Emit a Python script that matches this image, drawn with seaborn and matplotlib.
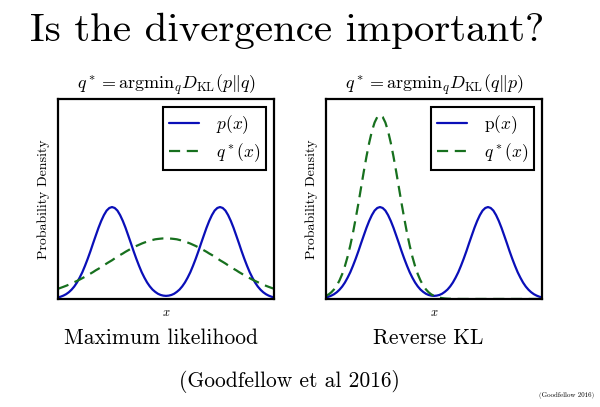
import numpy as np
import pandas as pd
import matplotlib
matplotlib.use("Agg")
import matplotlib.pyplot as plt
import seaborn as sns

# x positions (shared), -4.0 .. 4.0
x_vals = [-4.0, -3.9, -3.8, -3.7, -3.6, -3.5, -3.4, -3.3, -3.2, -3.1,
          -3.0, -2.9, -2.8, -2.7, -2.6, -2.5, -2.4, -2.3, -2.2, -2.1,
          -2.0, -1.9, -1.8, -1.7, -1.6, -1.5, -1.4, -1.3, -1.2, -1.1,
          -1.0, -0.9, -0.8, -0.7, -0.6, -0.5, -0.4, -0.3, -0.2, -0.1,
          0.0, 0.1, 0.2, 0.3, 0.4, 0.5, 0.6, 0.7, 0.8, 0.9,
          1.0, 1.1, 1.2, 1.3, 1.4, 1.5, 1.6, 1.7, 1.8, 1.9,
          2.0, 2.1, 2.2, 2.3, 2.4, 2.5, 2.6, 2.7, 2.8, 2.9,
          3.0, 3.1, 3.2, 3.3, 3.4, 3.5, 3.6, 3.7, 3.8, 3.9, 4.0]

# bimodal p(x)
p_vals = [0.0048, 0.0072, 0.0105, 0.0149, 0.0209, 0.0287, 0.0385, 0.0508, 0.066, 0.0829,
          0.103, 0.1247, 0.148, 0.1729, 0.197, 0.2208, 0.242, 0.260, 0.274, 0.2821,
          0.285, 0.2821, 0.274, 0.260, 0.242, 0.2208, 0.197, 0.1729, 0.148, 0.1247,
          0.103, 0.0829, 0.066, 0.0511, 0.039, 0.0292, 0.022, 0.0162, 0.0125, 0.0104,
          0.0096, 0.0104, 0.0125, 0.0162, 0.022, 0.0292, 0.039, 0.0511, 0.066, 0.0829,
          0.103, 0.1247, 0.148, 0.1729, 0.197, 0.2208, 0.242, 0.260, 0.274, 0.2821,
          0.285, 0.2821, 0.274, 0.260, 0.242, 0.2208, 0.197, 0.1729, 0.148, 0.1247,
          0.103, 0.0829, 0.066, 0.0508, 0.0385, 0.0287, 0.0209, 0.0149, 0.0105, 0.0072, 0.0048]

# q* for maximum likelihood (broad)
q_ml_vals = [0.0317, 0.0346, 0.0377, 0.0409, 0.0444, 0.0481, 0.052, 0.0559, 0.060, 0.0645,
             0.069, 0.0737, 0.0786, 0.0835, 0.089, 0.0937, 0.099, 0.1043, 0.110, 0.1151,
             0.120, 0.1258, 0.131, 0.1363, 0.141, 0.1463, 0.151, 0.1558, 0.160, 0.1643,
             0.168, 0.1718, 0.175, 0.178, 0.181, 0.1829, 0.185, 0.1861, 0.187, 0.1878,
             0.188, 0.1878, 0.187, 0.1861, 0.185, 0.1829, 0.181, 0.178, 0.175, 0.1718,
             0.168, 0.1643, 0.160, 0.1558, 0.151, 0.1463, 0.141, 0.1363, 0.131, 0.1258,
             0.120, 0.1151, 0.110, 0.1043, 0.099, 0.0937, 0.089, 0.0835, 0.0786, 0.0737,
             0.069, 0.0645, 0.060, 0.0559, 0.052, 0.0481, 0.0444, 0.0409, 0.0377, 0.0346, 0.0317]

# q* for reverse KL (mode seeking)
q_rkl_vals = [0.0096, 0.0143, 0.0209, 0.0299, 0.0418, 0.0574, 0.077, 0.1016, 0.131, 0.1658,
              0.205, 0.2494, 0.296, 0.3457, 0.395, 0.4416, 0.484, 0.520, 0.547, 0.5642,
              0.570, 0.5642, 0.547, 0.520, 0.484, 0.4416, 0.395, 0.3457, 0.296, 0.2494,
              0.205, 0.1658, 0.131, 0.1016, 0.077, 0.0574, 0.0418, 0.0299, 0.0209, 0.0143,
              0.0096, 0.0063, 0.0041, 0.0026, 0.0016, 0.001, 0.0006, 0.0003, 0.0002, 0.0001,
              0.0, 0.0, 0.0, 0.0, 0.0, 0.0, 0.0, 0.0, 0.0, 0.0,
              0.0, 0.0, 0.0, 0.0, 0.0, 0.0, 0.0, 0.0, 0.0, 0.0,
              0.0, 0.0, 0.0, 0.0, 0.0, 0.0, 0.0, 0.0, 0.0, 0.0, 0.0]

main_title = "Is the divergence important?"
panel_titles = [r"$q^* = \mathrm{argmin}_q D_{\mathrm{KL}}(p\Vert q)$",
                r"$q^* = \mathrm{argmin}_q D_{\mathrm{KL}}(q\Vert p)$"]
p_labels = [r"$p(x)$", r"$\mathrm{p}(x)$"]
q_label = r"$q^*(x)$"
captions = ["Maximum likelihood", "Reverse KL"]
citation = "(Goodfellow et al 2016)"
small_cite = "(Goodfellow 2016)"

sns.set_style("white")
plt.rcParams["font.family"] = ["cmr10", "DejaVu Serif"]
plt.rcParams["mathtext.fontset"] = "cm"
plt.rcParams["axes.formatter.use_mathtext"] = True
plt.rcParams["text.color"] = "black"
plt.rcParams["axes.labelcolor"] = "black"

blue = "#0a0fb8"
green = "#17701e"
dash = [5, 3]

fig = plt.figure(figsize=(6, 4.07), dpi=100)
fig.patch.set_facecolor("white")

ax_pos = [[0.0967, 0.2654, 0.36, 0.4914], [0.5433, 0.2654, 0.36, 0.4914]]
q_sets = [q_ml_vals, q_rkl_vals]

for i in range(2):
    ax = fig.add_axes(ax_pos[i])
    df = pd.DataFrame({"x": x_vals, "p": p_vals, "q": q_sets[i]})
    sns.lineplot(data=df, x="x", y="p", ax=ax, color=blue, lw=1.6, label=p_labels[i])
    sns.lineplot(data=df, x="x", y="q", ax=ax, color=green, lw=1.6, label=q_label)
    ax.lines[1].set_dashes(dash)
    ax.set_xlim(-4, 4)
    ax.set_ylim(0, 0.62)
    ax.set_xticks([])
    ax.set_yticks([])
    ax.set_xlabel(r"$x$", fontsize=9, labelpad=6, color="black")
    ax.set_ylabel("Probability Density", fontsize=10, labelpad=6, color="black")
    ax.set_title(panel_titles[i], fontsize=13, pad=7, color="black")
    for s in ax.spines.values():
        s.set_color("black")
        s.set_linewidth(1.6)
    leg = ax.legend(loc="upper right", fontsize=12.5, frameon=True, fancybox=False,
                    edgecolor="black", framealpha=1, handlelength=1.7,
                    borderaxespad=0.45, borderpad=0.35, labelspacing=0.3,
                    handletextpad=1.0)
    leg.get_frame().set_linewidth(1.5)
    for h in leg.get_lines():
        h.set_linewidth(1.6)
    leg.get_lines()[1].set_dashes(dash)
    for t in leg.get_texts():
        t.set_color("black")

fig.text(0.478, 0.899, main_title, ha="center", va="baseline", fontsize=29.5, color="black")
fig.text(0.268, 0.155, captions[0], ha="center", va="baseline", fontsize=15.5, color="black")
fig.text(0.714, 0.155, captions[1], ha="center", va="baseline", fontsize=15.5, color="black")
fig.text(0.482, 0.048, citation, ha="center", va="baseline", fontsize=15.5, color="black")
fig.text(0.99, 0.024, small_cite, ha="right", va="baseline", fontsize=5, color="black")

fig.savefig("out.png", dpi=100, facecolor="white")
